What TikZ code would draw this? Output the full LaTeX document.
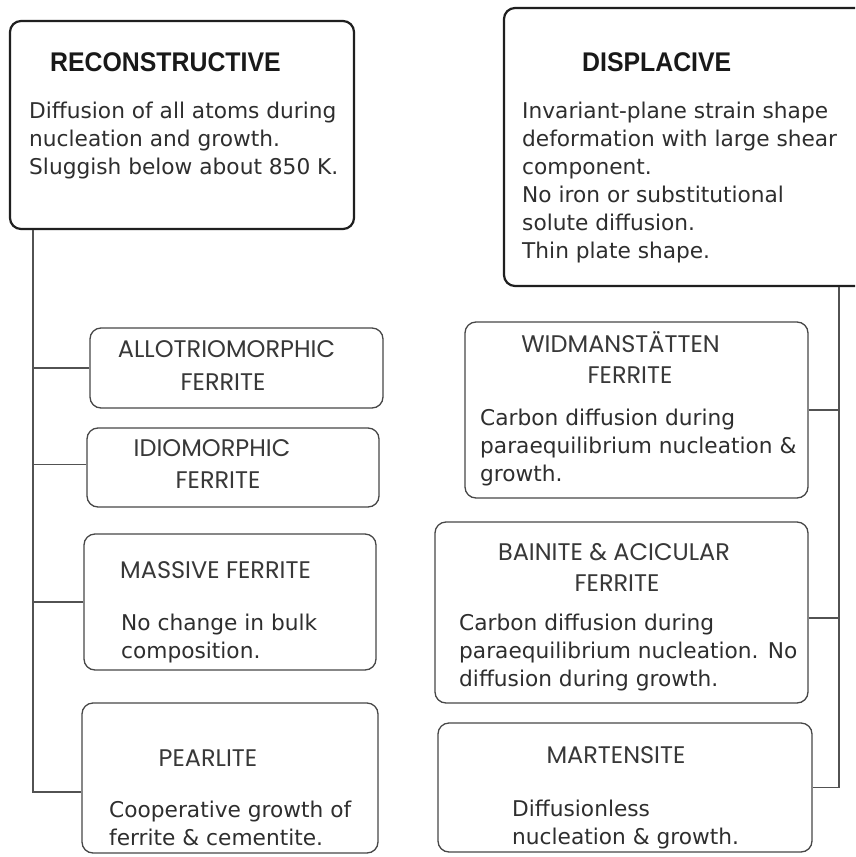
\documentclass[tikz,border=0pt]{standalone}
\usepackage{fontspec}
\setmainfont{DejaVu Sans}
\newfontfamily\headfont{Poppins}
\newfontfamily\titlefont[FakeStretch=0.92]{Liberation Sans}
\newcommand\mlines[1]{\vtop{#1}}
\begin{document}
\begin{tikzpicture}[x=1pt,y=-1pt,
  mainbox/.style={draw=black!88,line width=2.2pt,rounded corners=11pt,inner sep=0pt},
  subbox/.style={draw=black!72,line width=1.3pt,rounded corners=11pt,inner sep=0pt},
  conn/.style={draw=black!68,line width=1.2pt},
  ttl/.style={inner sep=0pt,anchor=base west,text=black!90,font=\titlefont\bfseries\fontsize{27}{30}\selectfont},
  hd/.style={inner sep=0pt,anchor=base,text=black!78,font=\headfont\fontsize{24}{28}\selectfont},
  body/.style={inner sep=0pt,anchor=base west,text=black!82,font=\fontsize{21.7}{28}\selectfont}]
\useasboundingbox (0,0) rectangle (855,857);
\fill[white] (0,0) rectangle (855,857);
\clip (0,0) rectangle (855,857);
% boxes
\node[mainbox,minimum width=344pt,minimum height=208pt] (recon) at (182,125) {};
\node[mainbox,minimum width=366pt,minimum height=278pt] (disp) at (687,147) {};
\node[subbox,minimum width=293pt,minimum height=80pt] (allo) at (236.5,368) {};
\node[subbox,minimum width=292pt,minimum height=79pt] (idio) at (233,467.5) {};
\node[subbox,minimum width=292pt,minimum height=136pt] (mass) at (230,602) {};
\node[subbox,minimum width=296pt,minimum height=150pt] (pearl) at (230,778) {};
\node[subbox,minimum width=343pt,minimum height=176pt] (widm) at (636.5,410) {};
\node[subbox,minimum width=373pt,minimum height=181pt] (bain) at (621.5,612.5) {};
\node[subbox,minimum width=374pt,minimum height=129pt] (mart) at (625,787.5) {};
% spines
\coordinate (lspine) at ([xshift=24pt]recon.south west);
\coordinate (rspine) at ([xshift=336pt]disp.south west);
\draw[conn] (lspine) |- ([yshift=-14pt]pearl.west);
\draw[conn] (allo.west) -- (allo.west -| lspine);
\draw[conn] ([yshift=3pt]idio.west) -- ([yshift=3pt]idio.west -| lspine);
\draw[conn] (mass.west) -- (mass.west -| lspine);
\draw[conn] (rspine) |- (mart.east);
\draw[conn] (widm.east) -- (widm.east -| rspine);
\draw[conn] ([yshift=-5.5pt]bain.east) -- ([yshift=-5.5pt]bain.east -| rspine);
% titles
\node[ttl] (recT) at (50,71.5) {RECONSTRUCTIVE};
\node[ttl] (dispT) at (582,71) {DISPLACIVE};
\node[body] (recB) at (29,118) {\mlines{\hbox{Diffusion of all atoms during}\hbox{nucleation and growth.}\hbox{Sluggish below about 850 K.}}};
\node[body] (dispB) at (522,118) {\mlines{\hbox{Invariant-plane strain shape}\hbox{deformation with large shear}\hbox{component.}\hbox{No iron or substitutional}\hbox{solute diffusion.}\hbox{Thin plate shape.}}};
% left headings
\node[hd] (alloT1) at (226.5,357) {ALLOTRIOMORPHIC};
\node[hd] (alloT2) at (223,390) {FERRITE};
\node[hd] (idioT1) at (212,456.5) {IDIOMORPHIC};
\node[hd] (idioT2) at (218,488) {FERRITE};
\node[hd] (massT) at (215.5,578) {MASSIVE FERRITE};
\node[body] (massB) at (121,630) {\mlines{\hbox{No change in bulk}\hbox{composition.}}};
\node[hd] (pearlT) at (208,766) {PEARLITE};
\node[body] (pearlB) at (109,817) {\mlines{\hbox{Cooperative growth of}\hbox{ferrite \& cementite.}}};
% right headings
\node[hd] (widmT1) at (620.5,352) {WIDMANSTÄTTEN};
\node[hd] (widmT2) at (630,383) {FERRITE};
\node[body] (widmB) at (480,425) {\mlines{\hbox{Carbon diffusion during}\hbox{paraequilibrium nucleation \&}\hbox{growth.}}};
\node[hd] (bainT1) at (614,560) {BAINITE \& ACICULAR};
\node[hd] (bainT2) at (617,591) {FERRITE};
\node[body] (bainB) at (459,630) {\mlines{\hbox{Carbon diffusion during}\hbox{paraequilibrium nucleation. No}\hbox{diffusion during growth.}}};
\node[hd] (martT) at (616,763) {MARTENSITE};
\node[body] (martB) at (512,816) {\mlines{\hbox{Diffusionless}\hbox{nucleation \& growth.}}};
\end{tikzpicture}
\end{document}
